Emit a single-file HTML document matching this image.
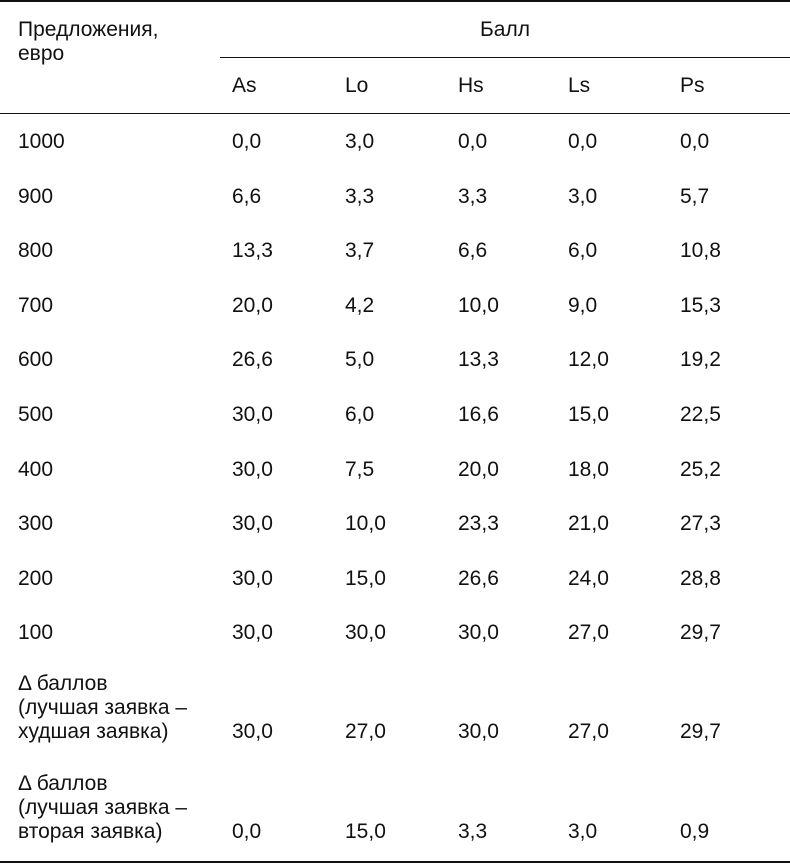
<!DOCTYPE html>
<html><head><meta charset="utf-8"><style>
body{margin:0;width:790px;height:865px;background:#fff;position:relative;overflow:hidden;font-family:"Liberation Sans",sans-serif;font-size:21px;color:#111}
.t{position:absolute;line-height:24px;white-space:nowrap}
.l{position:absolute;background:#111}
</style></head><body>
<div class="l" style="left:0;top:0;width:790px;height:2px"></div>
<div class="l" style="left:220px;top:57px;width:570px;height:1px"></div>
<div class="l" style="left:0;top:113px;width:790px;height:1px"></div>
<div class="l" style="left:0;top:861px;width:790px;height:2px"></div>
<div class="t" style="left:18px;top:18px">Предложения,</div>
<div class="t" style="left:18px;top:42px">евро</div>
<div class="t" style="left:480px;top:18px">Балл</div>
<div id="rows"></div>
<script>
var cols=[18,232,345,458,568,680];
var h=["","As","Lo","Hs","Ls","Ps"];
var d=[
["1000","0,0","3,0","0,0","0,0","0,0"],
["900","6,6","3,3","3,3","3,0","5,7"],
["800","13,3","3,7","6,6","6,0","10,8"],
["700","20,0","4,2","10,0","9,0","15,3"],
["600","26,6","5,0","13,3","12,0","19,2"],
["500","30,0","6,0","16,6","15,0","22,5"],
["400","30,0","7,5","20,0","18,0","25,2"],
["300","30,0","10,0","23,3","21,0","27,3"],
["200","30,0","15,0","26,6","24,0","28,8"],
["100","30,0","30,0","30,0","27,0","29,7"]];
var o="";
function cell(x,y,s){o+='<div class="t" style="left:'+x+'px;top:'+(y-12)+'px">'+s+'</div>';}
for(var c=1;c<6;c++)cell(cols[c],86,h[c]);
for(var r=0;r<d.length;r++){var y=142+r*54.6;for(var c=0;c<6;c++)cell(cols[c],y,d[r][c]);}
var e=[[684,"худшая заявка)",["30,0","27,0","30,0","27,0","29,7"]],[784,"вторая заявка)",["0,0","15,0","3,3","3,0","0,9"]]];
for(var i=0;i<2;i++){var y=e[i][0];cell(18,y,"Δ баллов");cell(18,y+24,"(лучшая заявка –");cell(18,y+48,e[i][1]);for(var c=1;c<6;c++)cell(cols[c],y+48,e[i][2][c-1]);}
document.getElementById("rows").innerHTML=o;
</script>
</body></html>
